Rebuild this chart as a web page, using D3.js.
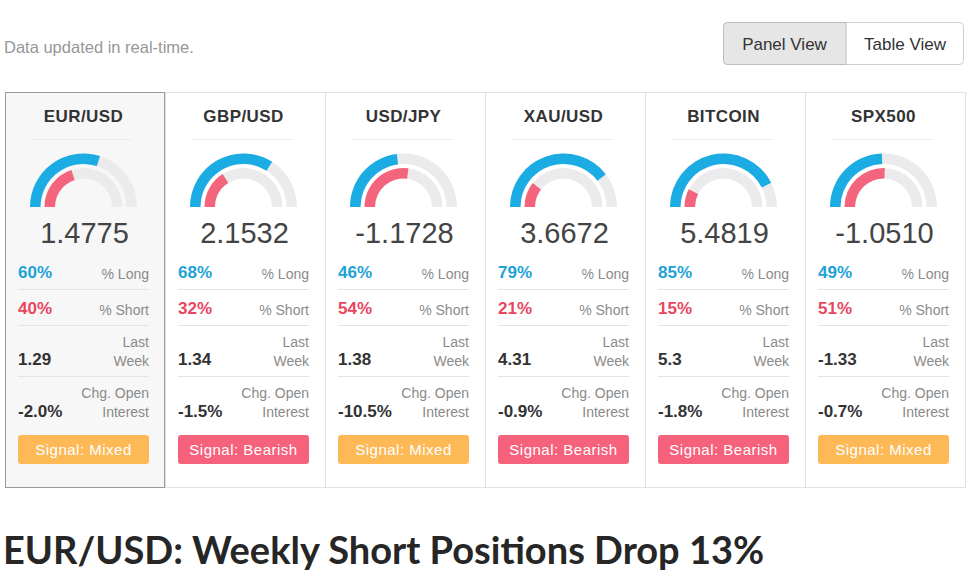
<!DOCTYPE html>
<html><head><meta charset="utf-8">
<script src="https://cdn.jsdelivr.net/npm/d3@7/dist/d3.min.js"></script>
<style>
html,body{margin:0;padding:0;background:#fff;}
svg{display:block;}
</style></head>
<body>
<svg id="chart" width="974" height="576"></svg>
<script>
const pairs = ["EUR/USD","GBP/USD","USD/JPY","XAU/USD","BITCOIN","SPX500"];
const values = ["1.4775","2.1532","-1.1728","3.6672","5.4819","-1.0510"];
const longPct = [60,68,46,79,85,49];
const shortPct = [40,32,54,21,15,51];
const lastWeek = ["1.29","1.34","1.38","4.31","5.3","-1.33"];
const chgOpenInterest = ["-2.0%","-1.5%","-10.5%","-0.9%","-1.8%","-0.7%"];
const signals = ["Mixed","Bearish","Mixed","Bearish","Bearish","Mixed"];
const subtitle = "Data updated in real-time.";
const viewButtons = ["Panel View","Table View"];
const headline = "EUR/USD: Weekly Short Positions Drop 13%";

const svg = d3.select("#chart");
const F = "'Liberation Sans', Arial, Helvetica, sans-serif";
const BLUE = "#1aace3", PINK = "#f4647c", TRACK = "#ebebed";
const BLUE_T = "#1ea2d8", RED_T = "#e8465f";
const sigColor = {Mixed:"#fdb955", Bearish:"#f6627b"};

// top text
svg.append("text").attr("x",4).attr("y",53).attr("font-family",F).attr("font-size",16.5)
  .attr("fill","#979797").text(subtitle);

// view toggle
const bx = d3.scaleOrdinal().domain(viewButtons).range([723,846]);
const bw = d3.scaleOrdinal().domain(viewButtons).range([123,118]);
svg.append("rect").attr("x",723.5).attr("y",22.5).attr("width",240).attr("height",42).attr("rx",4)
  .attr("fill","#fff").attr("stroke","#cfcfcf");
svg.append("path").attr("d","M727.5,22.5 H846 V64.5 H727.5 A4,4 0 0 1 723.5,60.5 V26.5 A4,4 0 0 1 727.5,22.5 Z")
  .attr("fill","#e6e6e6").attr("stroke","#bdbdbd");
viewButtons.forEach(b=>{
  svg.append("text").attr("x",bx(b)+bw(b)/2).attr("y",50).attr("text-anchor","middle")
    .attr("font-family",F).attr("font-size",17).attr("fill","#333").text(b);
});

// panels
const x = d3.scaleBand().domain(pairs).range([5,965]).padding(0);
const ang = d3.scaleLinear().domain([0,100]).range([-Math.PI/2, Math.PI/2]);
const outerArc = d3.arc().innerRadius(43).outerRadius(53.5);
const innerArc = d3.arc().innerRadius(28.5).outerRadius(39);

const panelTop = 92.5, panelBottom = 487.5;
pairs.forEach((p,i)=>{
  const x0 = x(p), w = x.bandwidth();
  if (i>0) {
    svg.append("rect").attr("x",x0+0.5).attr("y",panelTop).attr("width",w).attr("height",panelBottom-panelTop)
      .attr("fill","#fff").attr("stroke","#e2e2e2");
  }
});
pairs.forEach((p,i)=>{
  const x0 = x(p), w = x.bandwidth();
  const g = svg.append("g");
  if (i===0) {
    g.append("rect").attr("x",x0+0.5).attr("y",panelTop).attr("width",w-1).attr("height",panelBottom-panelTop)
      .attr("fill","#f7f7f7").attr("stroke","#9a9a9a");
  }
  const cx = x0 + 78.5;
  g.append("text").attr("x",cx).attr("y",122).attr("text-anchor","middle").attr("font-family",F)
    .attr("font-weight","bold").attr("font-size",17).attr("letter-spacing",0.4).attr("fill","#333").text(p);
  g.append("line").attr("x1",x0+28).attr("x2",x0+128).attr("y1",139.5).attr("y2",139.5).attr("stroke","#ececec");
  const gg = g.append("g").attr("transform",`translate(${cx},207)`);
  gg.append("path").attr("d",outerArc({startAngle:ang(0),endAngle:ang(100)})).attr("fill",TRACK);
  gg.append("path").attr("d",innerArc({startAngle:ang(0),endAngle:ang(100)})).attr("fill",TRACK);
  gg.append("path").attr("d",outerArc({startAngle:ang(0),endAngle:ang(longPct[i])})).attr("fill",BLUE);
  gg.append("path").attr("d",innerArc({startAngle:ang(0),endAngle:ang(shortPct[i])})).attr("fill",PINK);
  g.append("text").attr("x",cx+1).attr("y",243).attr("text-anchor","middle").attr("font-family",F)
    .attr("font-size",29).attr("fill","#444").text(values[i]);

  const L = x0+13, R = x0+144;
  const left = (y,t,c)=>g.append("text").attr("x",L).attr("y",y).attr("font-family",F).attr("font-weight","bold")
    .attr("font-size",17).attr("fill",c).text(t);
  const right = (y,t)=>g.append("text").attr("x",R).attr("y",y).attr("text-anchor","end").attr("font-family",F)
    .attr("font-size",14).attr("fill","#8a8a8a").text(t);
  const sep = y=>g.append("line").attr("x1",L).attr("x2",R).attr("y1",y).attr("y2",y).attr("stroke","#e4e4e4");

  left(278, longPct[i]+"%", BLUE_T); right(279,"% Long"); sep(289.5);
  left(314, shortPct[i]+"%", RED_T); right(315,"% Short"); sep(325.5);
  left(365, lastWeek[i], "#333"); right(347,"Last"); right(366,"Week"); sep(376.5);
  left(417, chgOpenInterest[i], "#333"); right(398,"Chg. Open"); right(417,"Interest");

  g.append("rect").attr("x",L).attr("y",435).attr("width",R-L).attr("height",29).attr("rx",3)
    .attr("fill",sigColor[signals[i]]);
  g.append("text").attr("x",(L+R)/2).attr("y",455).attr("text-anchor","middle").attr("font-family",F)
    .attr("font-size",15).attr("letter-spacing",0.5).attr("fill","#fff").text("Signal: "+signals[i]);
});

// headline
svg.append("text").attr("x",3).attr("y",564).attr("font-family","Lato, 'Open Sans', sans-serif")
  .attr("font-weight",700).attr("font-size",38).attr("fill","#262626").text(headline);
</script>
</body></html>
